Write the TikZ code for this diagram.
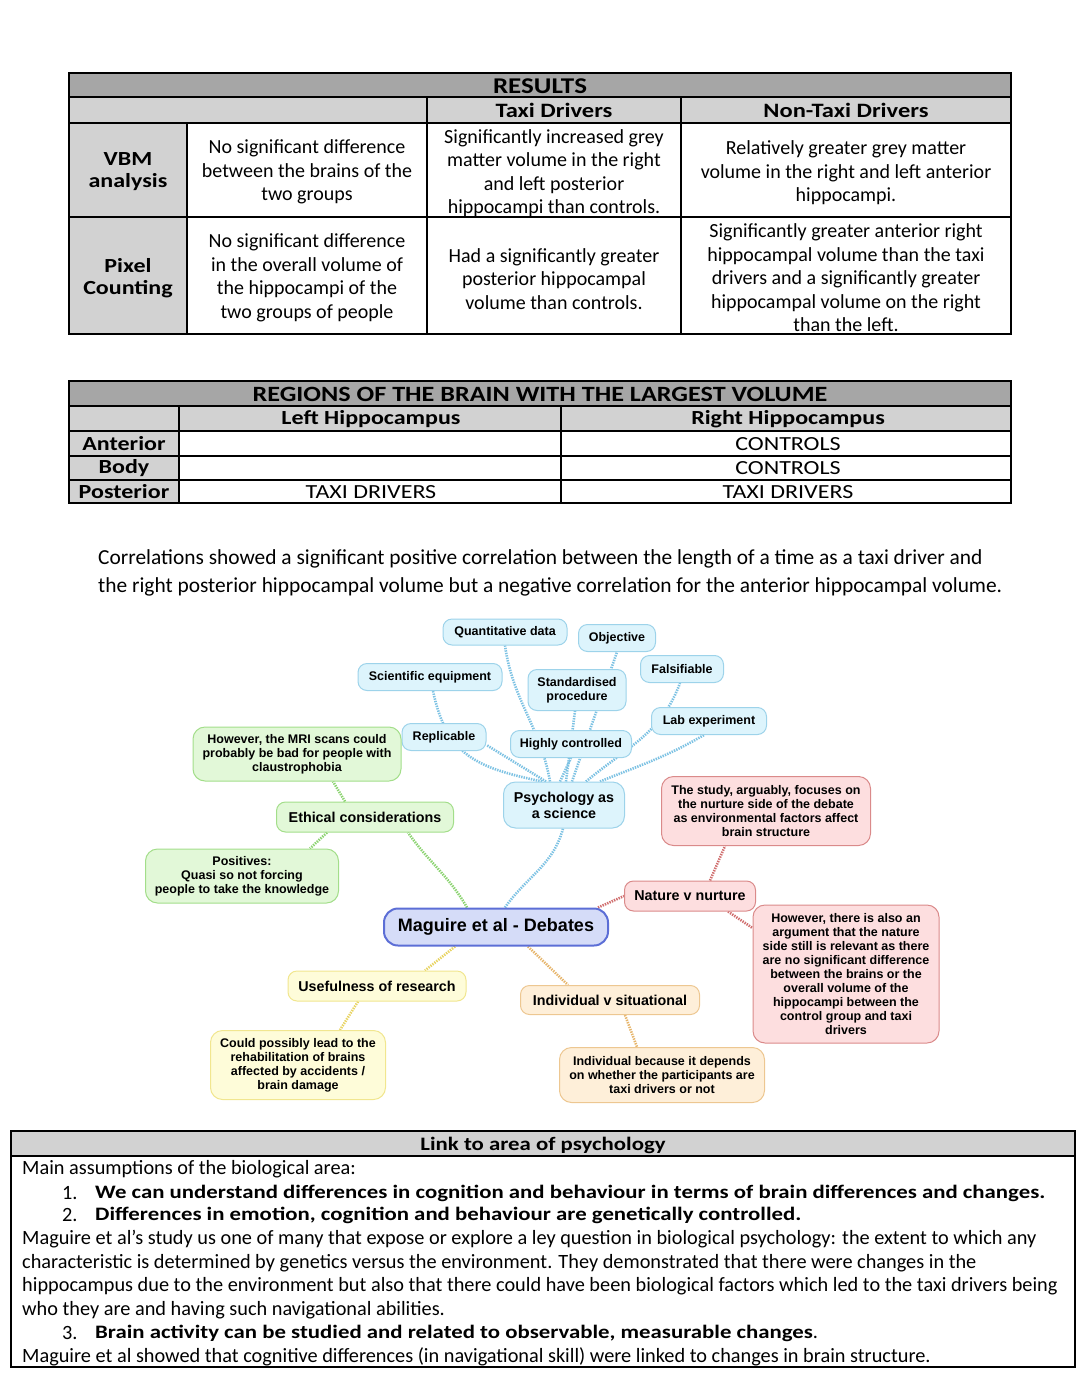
\documentclass[tikz,border=0pt]{standalone}
\usepackage{fontspec}
\setmainfont{Carlito}
\newfontfamily\wide{Carlito}[FakeStretch=1.2]
\newfontfamily\mapfont{Liberation Sans}
\usetikzlibrary{positioning, backgrounds}

\definecolor{titlegray}{HTML}{A6A6A6}
\definecolor{headgray}{HTML}{D2D2D2}
\definecolor{sciline}{HTML}{7DC2E3}
\definecolor{scifill}{HTML}{DDF4FC}
\definecolor{scidraw}{HTML}{9DD3EA}
\definecolor{ethline}{HTML}{8BD370}
\definecolor{ethfill}{HTML}{E2F8D8}
\definecolor{ethdraw}{HTML}{A3DE8A}
\definecolor{natline}{HTML}{D06E6E}
\definecolor{natfill}{HTML}{FDDEDF}
\definecolor{natdraw}{HTML}{DA8A8A}
\definecolor{useline}{HTML}{E8D464}
\definecolor{usefill}{HTML}{FEFCD9}
\definecolor{usedraw}{HTML}{F1E68F}
\definecolor{indline}{HTML}{E6B56C}
\definecolor{indfill}{HTML}{FEEFD9}
\definecolor{inddraw}{HTML}{EDC791}
\definecolor{magfill}{HTML}{D5DCF8}
\definecolor{magdraw}{HTML}{5C6ED6}

\begin{document}
\begin{tikzpicture}[x=1pt,y=1pt,
  tabline/.style={line width=1.8pt},
  cell/.style={align=center,inner sep=0pt,font=\fontsize{20}{23.5}\selectfont},
  capcell/.style={cell,font=\wide\fontsize{20}{23.5}\selectfont},
  bcell/.style={cell,font=\wide\fontsize{20}{22}\selectfont\bfseries},
  body/.style={anchor=west,inner sep=0pt,font=\fontsize{20.3}{22}\selectfont},
  bbody/.style={body,font=\wide\fontsize{19}{22}\selectfont\bfseries},
  leaf/.style={draw,line width=1pt,rounded corners=9pt,align=center,inner sep=1pt,
    font=\mapfont\bfseries\fontsize{12.5}{14}\selectfont},
  branch/.style={leaf,font=\mapfont\bfseries\fontsize{14.3}{16}\selectfont},
  scileaf/.style={leaf,draw=scidraw,fill=scifill},
  ethleaf/.style={leaf,draw=ethdraw,fill=ethfill},
  natleaf/.style={leaf,draw=natdraw,fill=natfill},
  useleaf/.style={leaf,draw=usedraw,fill=usefill},
  indleaf/.style={leaf,draw=inddraw,fill=indfill},
  link/.style={line width=2.6pt,dash pattern=on 1.4pt off 1.1pt}]

\useasboundingbox (0,0) rectangle (1090,-1394);

\fill[titlegray] (69,-73) rectangle (1011,-97);
\fill[headgray] (69,-97) rectangle (1011,-123);
\fill[headgray] (69,-123) rectangle (187,-334);
\draw[tabline] (69,-73) rectangle (1011,-334);
\draw[tabline] (69,-97) -- (1011,-97) (69,-123) -- (1011,-123) (69,-217) -- (1011,-217);
\draw[tabline] (427,-97) -- (427,-334) (681,-97) -- (681,-334) (187,-123) -- (187,-334);

\node[bcell,font=\wide\fontsize{22.5}{24}\selectfont\bfseries] (restitle) at (540,-86) {RESULTS};
\node[bcell,font=\wide\fontsize{20.4}{22}\selectfont\bfseries] (taxihead) at (554,-110) {Taxi Drivers};
\node[bcell,font=\wide\fontsize{20.4}{22}\selectfont\bfseries] (nontaxihead) at (846,-110) {Non-Taxi Drivers};
\node[bcell] (vbm) at (128,-172) {VBM\\analysis};
\node[cell] (vbmall) at (307,-172) {No significant difference\\between the brains of the\\two groups};
\node[cell] (vbmtaxi) at (554,-173) {Significantly increased grey\\matter volume in the right\\and left posterior\\hippocampi than controls.};
\node[cell] (vbmnon) at (846,-173) {Relatively greater grey matter\\volume in the right and left anterior\\hippocampi.};
\node[bcell] (pixel) at (128,-278) {Pixel\\Counting};
\node[cell] (pixall) at (307,-278) {No significant difference\\in the overall volume of\\the hippocampi of the\\two groups of people};
\node[cell] (pixtaxi) at (554,-279) {Had a significantly greater\\posterior hippocampal\\volume than controls.};
\node[cell] (pixnon) at (846,-278) {Significantly greater anterior right\\hippocampal volume than the taxi\\drivers and a significantly greater\\hippocampal volume on the right\\than the left.};

\fill[titlegray] (69,-381) rectangle (1011,-406);
\fill[headgray] (69,-406) rectangle (1011,-431);
\fill[headgray] (69,-431) rectangle (179,-503);
\draw[tabline] (69,-381) rectangle (1011,-503);
\draw[tabline] (69,-406) -- (1011,-406) (69,-431) -- (1011,-431) (69,-456) -- (1011,-456) (69,-480) -- (1011,-480);
\draw[tabline] (179,-406) -- (179,-503) (561,-406) -- (561,-503);

\node[bcell,font=\wide\fontsize{21.8}{24}\selectfont\bfseries] (regtitle) at (540,-394) {REGIONS OF THE BRAIN WITH THE LARGEST VOLUME};
\node[bcell] (lefthead) at (371,-419) {Left Hippocampus};
\node[bcell] (righthead) at (788,-419) {Right Hippocampus};
\node[bcell] (anterior) at (124,-444) {Anterior};
\node[bcell] (bodyrow) at (124,-468) {Body};
\node[bcell] (posterior) at (124,-492) {Posterior};
\node[capcell] (antright) at (788,-444) {CONTROLS};
\node[capcell] (bodyright) at (788,-468) {CONTROLS};
\node[capcell] (postleft) at (371,-492) {TAXI DRIVERS};
\node[capcell] (postright) at (788,-492) {TAXI DRIVERS};

\node[body,font=\fontsize{21.4}{24}\selectfont] (corr1) at (98,-559) {Correlations showed a significant positive correlation between the length of a time as a taxi driver and};
\node[body,font=\fontsize{21.4}{24}\selectfont] (corr2) at (98,-587) {the right posterior hippocampal volume but a negative correlation for the anterior hippocampal volume.};

\node[scileaf,minimum width=124pt,minimum height=26pt] (qd) at (505,-632) {Quantitative data};
\node[scileaf,minimum width=77pt,minimum height=27pt] (obj) at (617,-638) {Objective};
\node[scileaf,minimum width=144pt,minimum height=27pt] (sci) at (430,-677) {Scientific equipment};
\node[scileaf,minimum width=98pt,minimum height=41pt] (sp) at (577,-690) {Standardised\\procedure};
\node[scileaf,minimum width=83pt,minimum height=27pt] (fal) at (682,-669) {Falsifiable};
\node[scileaf,minimum width=115pt,minimum height=27pt] (lab) at (709,-721) {Lab experiment};
\node[scileaf,minimum width=84pt,minimum height=27pt] (rep) at (444,-737) {Replicable};
\node[scileaf,minimum width=121pt,minimum height=27pt] (hc) at (571,-744) {Highly controlled};
\node[branch,draw=scidraw,fill=scifill,minimum width=121pt,minimum height=46pt,rounded corners=12pt] (psy) at (564,-805) {Psychology as\\a science};

\node[ethleaf,minimum width=208pt,minimum height=54pt,rounded corners=12pt] (mri) at (297,-754) {However, the MRI scans could\\probably be bad for people with\\claustrophobia};
\node[branch,draw=ethdraw,fill=ethfill,minimum width=177pt,minimum height=30pt] (ethic) at (365,-817) {Ethical considerations};
\node[ethleaf,minimum width=193pt,minimum height=54pt,rounded corners=12pt] (pos) at (242,-876) {Positives:\\Quasi so not forcing\\people to take the knowledge};

\node[draw=magdraw,fill=magfill,line width=2pt,rounded corners=14pt,minimum width=224pt,minimum height=37pt,
  font=\mapfont\bfseries\fontsize{18}{20}\selectfont] (mag) at (496,-927) {Maguire et al - Debates};

\node[natleaf,minimum width=209pt,minimum height=69pt,rounded corners=12pt] (study) at (766,-811) {The study, arguably, focuses on\\the nurture side of the debate\\as environmental factors affect\\brain structure};
\node[branch,draw=natdraw,fill=natfill,minimum width=131pt,minimum height=30pt] (nat) at (690,-896) {Nature v nurture};
\node[natleaf,minimum width=186pt,minimum height=138pt,rounded corners=12pt] (how) at (846,-974) {However, there is also an\\argument that the nature\\side still is relevant as there\\are no significant difference\\between the brains or the\\overall volume of the\\hippocampi between the\\control group and taxi\\drivers};

\node[branch,draw=usedraw,fill=usefill,minimum width=178pt,minimum height=30pt] (use) at (377,-986) {Usefulness of research};
\node[useleaf,minimum width=175pt,minimum height=69pt,rounded corners=12pt] (could) at (298,-1065) {Could possibly lead to the\\rehabilitation of brains\\affected by accidents /\\brain damage};
\node[branch,draw=inddraw,fill=indfill,minimum width=179pt,minimum height=29pt] (ivs) at (610,-1000) {Individual v situational};
\node[indleaf,minimum width=205pt,minimum height=55pt,rounded corners=12pt] (ib) at (662,-1075) {Individual because it depends\\on whether the participants are\\taxi drivers or not};

\begin{pgfonlayer}{background}
\draw[link,sciline] ([xshift=9pt]mag.north) to[out=55,in=-105] ([xshift=-1pt]psy.south);
\draw[link,sciline] ([xshift=-18pt]psy.north) -- ([yshift=-8pt]rep.east);
\draw[link,sciline] ([xshift=-22pt]psy.north) to[out=168,in=-78,looseness=1.2] ([xshift=3pt]sci.south);
\draw[link,sciline] ([xshift=-14pt]psy.north) to[out=100,in=-82] (qd.south);
\draw[link,sciline] ([xshift=-4pt]psy.north) -- (hc.south);
\draw[link,sciline] ([xshift=2pt]psy.north) -- ([xshift=-2pt]sp.south);
\draw[link,sciline] ([xshift=8pt]psy.north) -- (obj.south);
\draw[link,sciline] ([xshift=22pt]psy.north) to[out=40,in=-110] ([xshift=-2pt]fal.south);
\draw[link,sciline] ([xshift=36pt]psy.north) to[out=22,in=-150] ([xshift=-5pt]lab.south);
\draw[link,ethline] ([xshift=-29pt]mag.north) to[out=120,in=-55] ([xshift=43pt]ethic.south);
\draw[link,ethline] ([xshift=-20pt]ethic.north) -- ([xshift=36pt]mri.south);
\draw[link,ethline] ([xshift=-38pt]ethic.south) -- ([xshift=68pt]pos.north);
\draw[link,natline] ([xshift=-11pt]mag.north east) -- (nat.west);
\draw[link,natline] ([xshift=20pt]nat.north) -- ([xshift=-41pt]study.south);
\draw[link,natline] ([xshift=38pt]nat.south) -- ([yshift=46pt]how.west);
\draw[link,useline] ([xshift=-41pt]mag.south) -- ([xshift=48pt]use.north);
\draw[link,useline] ([xshift=-19pt]use.south) -- ([xshift=42pt]could.north);
\draw[link,indline] ([xshift=32pt]mag.south) -- ([xshift=-42pt]ivs.north);
\draw[link,indline] ([xshift=15pt]ivs.south) -- ([xshift=-25pt]ib.north);
\end{pgfonlayer}

\fill[headgray] (11,-1131) rectangle (1075,-1156);
\draw[tabline] (11,-1131) rectangle (1075,-1367);
\draw[tabline] (11,-1156) -- (1075,-1156);
\node[bcell,font=\wide\fontsize{19}{22}\selectfont\bfseries] (linktitle) at (543,-1145) {Link to area of psychology};
\node[body] (mainline) at (22,-1169) {Main assumptions of the biological area:};
\node[body] (num1) at (62,-1193) {1.};
\node[bbody] (ass1) at (95,-1193) {We can understand differences in cognition and behaviour in terms of brain differences and changes.};
\node[body] (num2) at (62,-1215) {2.};
\node[bbody] (ass2) at (95,-1215) {Differences in emotion, cognition and behaviour are genetically controlled.};
\node[body] (para1) at (22,-1239) {Maguire et al’s study us one of many that expose or explore a ley question in biological psychology: the extent to which any};
\node[body] (para2) at (22,-1263) {characteristic is determined by genetics versus the environment. They demonstrated that there were changes in the};
\node[body] (para3) at (22,-1286) {hippocampus due to the environment but also that there could have been biological factors which led to the taxi drivers being};
\node[body] (para4) at (22,-1310) {who they are and having such navigational abilities.};
\node[body] (num3) at (62,-1333) {3.};
\node[body] (ass3) at (95,-1333) {{\wide\fontsize{19}{22}\selectfont\bfseries Brain activity can be studied and related to observable, measurable changes}.};
\node[body] (para5) at (22,-1357) {Maguire et al showed that cognitive differences (in navigational skill) were linked to changes in brain structure.};
\end{tikzpicture}
\end{document}
